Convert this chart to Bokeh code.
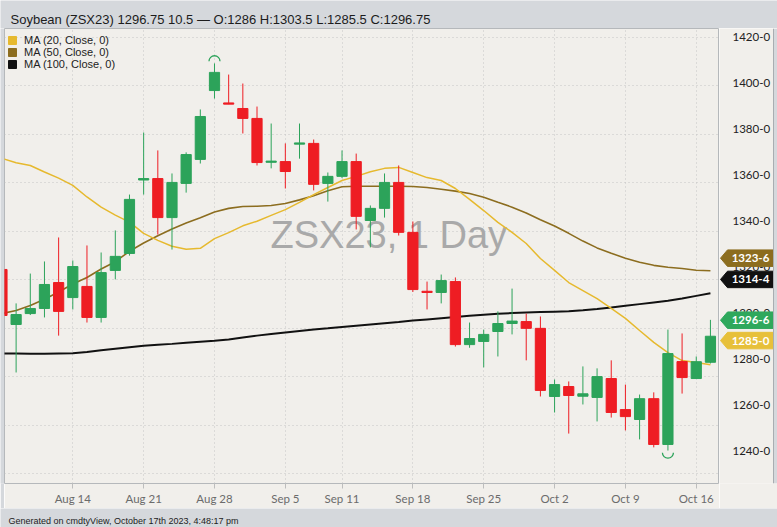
from math import pi
from bokeh.plotting import figure
from bokeh.models import (ColumnDataSource, Range1d, FixedTicker, Legend, LegendItem)
from bokeh.layouts import column, row
from bokeh.core.properties import value
from bokeh.embed import file_html
from bokeh.resources import INLINE

# ---------------- data ----------------
name = "Soybean"
symbol = "ZSX23"
interval = "1 Day"
footer_text = "Generated on cmdtyView, October 17th 2023, 4:48:17 pm"

dates = ["Aug 7", "Aug 8", "Aug 9", "Aug 10", "Aug 11",
         "Aug 14", "Aug 15", "Aug 16", "Aug 17", "Aug 18",
         "Aug 21", "Aug 22", "Aug 23", "Aug 24", "Aug 25",
         "Aug 28", "Aug 29", "Aug 30", "Aug 31", "Sep 1",
         "Sep 5", "Sep 6", "Sep 7", "Sep 8",
         "Sep 11", "Sep 12", "Sep 13", "Sep 14", "Sep 15",
         "Sep 18", "Sep 19", "Sep 20", "Sep 21", "Sep 22",
         "Sep 25", "Sep 26", "Sep 27", "Sep 28", "Sep 29",
         "Oct 2", "Oct 3", "Oct 4", "Oct 5", "Oct 6",
         "Oct 9", "Oct 10", "Oct 11", "Oct 12", "Oct 13",
         "Oct 16", "Oct 17"]

opens = [1324.3, 1301.6, 1306.1, 1308.2, 1318.9, 1312.7, 1317.3, 1304.5, 1323.9, 1330.9,
         1361.2, 1361.8, 1345.7, 1359.8, 1369.7, 1398.1, 1393.0, 1390.7, 1386.6, 1368.5,
         1368.8, 1376.0, 1376.3, 1359.8, 1362.7, 1368.8, 1344.5, 1349.5, 1360.2, 1339.6,
         1315.3, 1314.8, 1319.3, 1293.3, 1294.6, 1298.7, 1302.0, 1302.8, 1300.0, 1271.9,
         1276.0, 1272.0, 1271.5, 1279.3, 1266.5, 1262.4, 1271.0, 1252.1, 1286.3, 1279.3, 1286.0]
highs = [1327.0, 1310.3, 1322.6, 1327.6, 1337.5, 1328.0, 1334.2, 1331.3, 1340.4, 1355.2,
         1380.8, 1373.4, 1363.9, 1372.6, 1390.3, 1409.3, 1404.7, 1401.0, 1391.5, 1384.5,
         1376.3, 1384.5, 1377.9, 1364.3, 1373.4, 1372.1, 1350.7, 1363.9, 1367.2, 1344.1,
         1319.3, 1322.2, 1321.0, 1302.4, 1299.5, 1307.0, 1316.4, 1306.1, 1304.9, 1278.9,
         1278.1, 1284.3, 1283.5, 1286.8, 1276.8, 1272.7, 1273.6, 1299.5, 1297.9, 1288.4, 1303.5]
lows = [1302.0, 1281.8, 1305.5, 1304.5, 1297.0, 1307.8, 1302.4, 1302.4, 1320.2, 1330.0,
        1355.2, 1338.7, 1332.5, 1356.0, 1368.0, 1394.8, 1392.5, 1380.4, 1367.2, 1366.0,
        1357.7, 1370.0, 1356.9, 1352.3, 1362.0, 1340.8, 1333.4, 1345.7, 1338.3, 1315.0,
        1307.8, 1310.3, 1292.5, 1292.0, 1283.9, 1288.4, 1297.5, 1286.8, 1271.9, 1265.3,
        1256.6, 1268.6, 1261.6, 1263.2, 1257.9, 1254.2, 1250.9, 1249.6, 1273.1, 1279.3, 1285.5]
closes = [1305.3, 1305.7, 1308.2, 1318.1, 1307.0, 1325.5, 1304.5, 1323.0, 1329.7, 1353.2,
          1361.8, 1345.7, 1360.2, 1371.7, 1387.4, 1405.6, 1392.5, 1386.6, 1368.4, 1369.0,
          1364.7, 1376.5, 1359.4, 1362.7, 1368.8, 1346.2, 1349.5, 1360.2, 1339.6, 1316.0,
          1314.8, 1319.7, 1293.3, 1295.8, 1297.5, 1302.0, 1303.0, 1300.0, 1274.4, 1276.8,
          1272.3, 1273.0, 1280.1, 1265.3, 1263.6, 1271.0, 1252.1, 1289.6, 1279.7, 1286.25, 1296.75]

ma20 = [1370.1, 1368.3, 1367.2, 1364.5, 1362.0, 1359.0, 1354.2, 1350.0, 1346.7, 1343.8,
        1339.2, 1336.3, 1333.9, 1332.6, 1333.0, 1337.0, 1339.5, 1342.3, 1344.2, 1346.6,
        1349.0, 1352.0, 1355.2, 1358.1, 1361.0, 1362.7, 1364.6, 1366.0, 1366.4, 1364.3,
        1362.2, 1361.0, 1357.7, 1353.2, 1348.6, 1343.7, 1339.6, 1335.0, 1328.8, 1323.9,
        1318.9, 1315.6, 1312.3, 1308.2, 1304.1, 1299.1, 1294.2, 1290.0, 1286.7, 1285.9, 1285.0]
ma50 = [1306.1, 1307.4, 1309.4, 1312.0, 1315.0, 1318.3, 1321.0, 1324.5, 1327.5, 1331.8,
        1335.2, 1338.2, 1341.0, 1343.5, 1345.6, 1348.0, 1349.5, 1350.3, 1350.4, 1350.7,
        1351.5, 1353.0, 1354.7, 1356.8, 1358.4, 1358.6, 1358.6, 1358.6, 1358.6, 1358.5,
        1358.1, 1357.4, 1356.6, 1355.6, 1354.1, 1352.0, 1350.0, 1347.6, 1344.8, 1342.2,
        1339.2, 1336.0, 1333.2, 1331.0, 1328.9, 1327.3, 1326.0, 1325.2, 1324.7, 1324.0, 1323.75]
ma100 = [1289.6, 1289.6, 1289.5, 1289.5, 1289.6, 1289.7, 1290.2, 1291.0, 1291.6, 1292.2,
         1292.8, 1293.2, 1293.6, 1294.1, 1294.5, 1294.9, 1295.4, 1296.2, 1297.0, 1297.7,
         1298.3, 1298.9, 1299.5, 1300.0, 1300.6, 1301.1, 1301.6, 1302.1, 1302.6, 1303.2,
         1303.7, 1304.2, 1304.7, 1305.2, 1305.6, 1306.0, 1306.3, 1306.5, 1306.7, 1306.9,
         1307.1, 1307.5, 1308.0, 1308.6, 1309.3, 1310.0, 1310.7, 1311.4, 1312.3, 1313.4, 1314.5]

ma_names = ["MA (20, Close, 0)", "MA (50, Close, 0)", "MA (100, Close, 0)"]
x_tick_dates = ["Aug 14", "Aug 21", "Aug 28", "Sep 5", "Sep 11", "Sep 18",
                "Sep 25", "Oct 2", "Oct 9", "Oct 16"]
y_ticks = [1240, 1260, 1280, 1300, 1320, 1340, 1360, 1380, 1400, 1420]

# ---------------- style ----------------
GRAY = "#d5d8dc"
PANEL = "#f1efeb"
GREEN = "#2ca35a"
RED = "#ee1d23"
C20 = "#e6b92e"
C50 = "#8c6d1f"
C100 = "#111111"
TOTAL_W = 777
LEFT_W = 4
MAIN_W = 715
SIDE_W = TOTAL_W - LEFT_W - MAIN_W
MAIN_H = 480
FRAME_H = 455
BOTTOM = MAIN_H - FRAME_H
X0, X1 = 0.18, 50.64
Y0, Y1 = 1236.0, 1423.7
PXY = FRAME_H / (Y1 - Y0)


def fmt(v):
    return f"{v:.2f}".rstrip("0").rstrip(".")


def eighths(v):
    whole = int(v)
    return f"{whole}-{int(round((v - whole) * 8))}"


idx = list(range(len(dates)))
up = [c >= o for o, c in zip(opens, closes)]
src = ColumnDataSource(dict(
    x=idx,
    top=[max(o, c) for o, c in zip(opens, closes)],
    bottom=[min(o, c) for o, c in zip(opens, closes)],
    high=highs, low=lows,
    color=[GREEN if u else RED for u in up],
))

p = figure(width=MAIN_W, height=MAIN_H, x_range=Range1d(X0, X1), y_range=Range1d(Y0, Y1),
           output_backend="svg", toolbar_location=None, y_axis_location=None,
           min_border_left=0, min_border_right=0, min_border_top=0,
           min_border_bottom=BOTTOM, background_fill_color=PANEL, border_fill_color=PANEL,
           outline_line_color="#b5b8bb")

x_ticks = [dates.index(d) for d in x_tick_dates]
p.xaxis.ticker = FixedTicker(ticks=x_ticks)
p.xaxis.major_label_overrides = {t: d for t, d in zip(x_ticks, x_tick_dates)}
p.xgrid.ticker = FixedTicker(ticks=x_ticks)
p.ygrid.ticker = FixedTicker(ticks=y_ticks)
for g in (p.xgrid, p.ygrid):
    g.grid_line_color = "#c4c4c4"
    g.grid_line_dash = "1 3"
    g.grid_line_width = 1

p.xaxis.axis_line_color = None
p.xaxis.major_tick_out = 5
p.xaxis.major_tick_in = 0
p.xaxis.major_tick_line_color = "#bdbdbd"
p.xaxis.minor_tick_line_color = None
p.xaxis.major_label_standoff = 3
p.xaxis.major_label_text_font = "Lato"
p.xaxis.major_label_text_font_size = "11.5px"
p.xaxis.major_label_text_color = "#6b6b6b"

# watermark
p.text(x=[27.3], y=[1338.4], text=[f"{symbol}, {interval}"], text_font=value("Liberation Sans"),
       text_font_size="38px", text_color="#a9a9a9", text_align="center",
       text_baseline="alphabetic")

# moving averages
p.line(idx, ma100, color=C100, line_width=2)
p.line(idx, ma50, color=C50, line_width=1.6)
p.line(idx, ma20, color=C20, line_width=1.5)

# candles
p.segment(x0="x", y0="low", x1="x", y1="high", color="color", line_width=1, source=src)
p.vbar(x="x", width=0.72, top="top", bottom="bottom", fill_color="color",
       line_color="color", line_width=1, source=src)

# high / low markers
hi_i = max(idx, key=lambda i: highs[i])
lo_i = min(idx, key=lambda i: lows[i])
p.arc(x=[hi_i], y=[highs[hi_i] + 0.9], radius=5.5, radius_units="screen",
      start_angle=0, end_angle=pi, color=GREEN, line_width=1.3)
p.arc(x=[lo_i], y=[lows[lo_i] - 0.9], radius=5.5, radius_units="screen",
      start_angle=pi, end_angle=2 * pi, color=GREEN, line_width=1.3)

# legend with square swatches (swatch renderers sit outside the visible range)
sw = []
for col in (C20, C50, C100):
    sw.append(p.quad(left=[X0 - 20], right=[X0 - 19], top=[Y0 - 50], bottom=[Y0 - 60],
                     fill_color=col, line_color=col))
legend = Legend(items=[LegendItem(label=n, renderers=[r]) for n, r in zip(ma_names, sw)],
                location=(3, 413), margin=0, padding=2, spacing=0,
                glyph_width=10, glyph_height=10, label_height=12, label_standoff=7,
                label_text_font="Liberation Sans", label_text_font_size="11px",
                label_text_color="#222222", background_fill_alpha=0,
                border_line_color=None)
p.add_layout(legend)

# ---------------- left panel edge ----------------
left = figure(width=LEFT_W, height=MAIN_H, x_range=Range1d(0, 1), y_range=Range1d(0, 1),
              output_backend="svg", toolbar_location=None, x_axis_location=None,
              y_axis_location=None, min_border=0, outline_line_color=None,
              background_fill_color=GRAY, border_fill_color=GRAY)
left.grid.visible = False

# ---------------- right-hand price scale with tags ----------------
side = figure(width=SIDE_W, height=MAIN_H, x_range=Range1d(0, SIDE_W),
              y_range=Range1d(Y0 - BOTTOM / PXY, Y1),
              output_backend="svg", toolbar_location=None, x_axis_location=None,
              y_axis_location=None, min_border=0, outline_line_color=None,
              background_fill_color=PANEL, border_fill_color=PANEL)
side.grid.visible = False
side.text(x=[13] * len(y_ticks), y=y_ticks, text=[eighths(t) for t in y_ticks],
          text_font=value("Lato"), text_font_size="11.5px", text_color="#222222",
          text_align="left", text_baseline="middle")

last_up = closes[-1] >= opens[-1]
tags = [(ma50[-1], C50, 0), (ma100[-1], C100, 0),
        (closes[-1], "#2ea85c" if last_up else RED, 0), (ma20[-1], "#e7c03a", 7)]
for val, col, yoff in tags:
    cy = val + yoff / PXY
    h = 8.7 / PXY
    side.patch(x=[1, 8, 54, 54, 8], y=[cy, cy + h, cy + h, cy - h, cy - h],
               fill_color=col, line_color=col)
    side.text(x=[31], y=[cy], text=[eighths(val)], text_font=value("Lato"),
              text_font_size="11.5px", text_font_style="bold", text_color="white",
              text_align="center", text_baseline="middle")

# outer panel edge on the right
side.quad(left=[54], right=[SIDE_W], bottom=[Y0 - BOTTOM / PXY], top=[Y1],
          fill_color=GRAY, line_color=None)
side.segment(x0=[54], x1=[54], y0=[Y0 - BOTTOM / PXY], y1=[Y1], line_color="#a9adb1",
             line_width=1)


def strip(h, txt, size, tx, ty):
    f = figure(width=TOTAL_W, height=h, x_range=Range1d(0, TOTAL_W), y_range=Range1d(h, 0),
               output_backend="svg", toolbar_location=None, x_axis_location=None,
               y_axis_location=None, min_border=0, outline_line_color=None,
               background_fill_color=GRAY, border_fill_color=GRAY)
    f.grid.visible = False
    f.text(x=[tx], y=[ty], text=[txt], text_font=value("Liberation Sans"),
           text_font_size=size, text_color="#1c1c1c", text_align="left",
           text_baseline="alphabetic")
    return f


title_txt = (f"{name} ({symbol}) {fmt(closes[-1])} {fmt(closes[-1] - closes[-2])} \u2014 "
             f"O:{fmt(opens[-1])} H:{fmt(highs[-1])} L:{fmt(lows[-1])} C:{fmt(closes[-1])}")
top = strip(28, title_txt, "13px", 10, 18.5)
foot = strip(19, footer_text, "9px", 8, 12.5)

layout = column(top, row(left, p, side, spacing=0), foot, spacing=0)
open("out.html", "w").write(file_html(layout, INLINE))
